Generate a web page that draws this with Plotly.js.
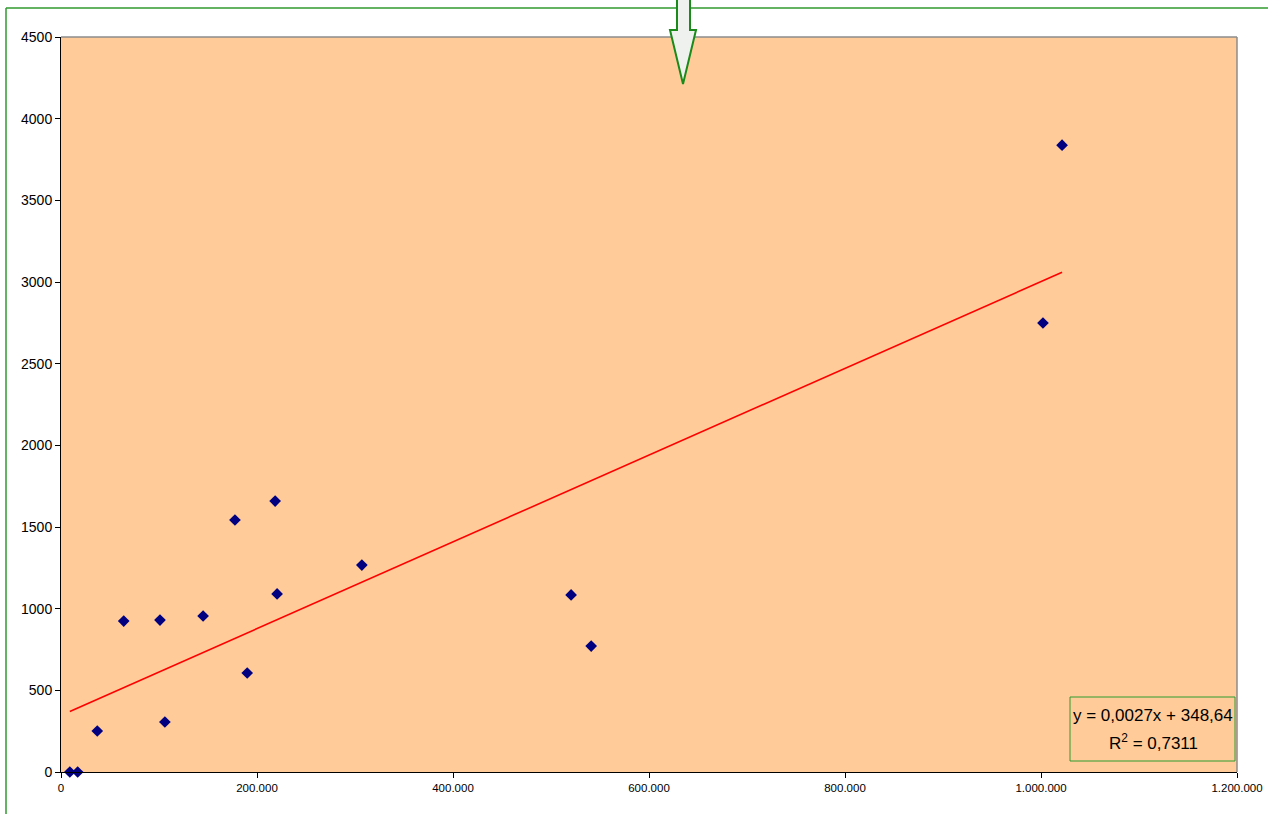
<!DOCTYPE html>
<html>
<head>
<meta charset="utf-8">
<script src="https://cdn.plot.ly/plotly-3.0.1.min.js"></script>
<style>html,body{margin:0;padding:0;background:#fff;}#chart{width:1268px;height:814px;}</style>
</head>
<body>
<div id="chart"></div>
<script>
// Data
const xValues = [9000, 17000, 37000, 64000, 101000, 106000, 145000, 177500, 190000, 218500, 220500, 307000, 520500, 541000, 1002000, 1021500];
const yValues = [0, 0, 251, 924, 930, 306, 955, 1543, 606, 1659, 1090, 1267, 1084, 771, 2749, 3838];
const yTicks = [0, 500, 1000, 1500, 2000, 2500, 3000, 3500, 4000, 4500];
const xTicks = [0, 200000, 400000, 600000, 800000, 1000000, 1200000];
const equationText = "y = 0,0027x + 348,64";
const r2Text = "R<sup>2</sup> = 0,7311";

// Least squares trendline from the data
const n = xValues.length;
const mx = xValues.reduce((a, b) => a + b, 0) / n;
const my = yValues.reduce((a, b) => a + b, 0) / n;
let sxy = 0, sxx = 0;
for (let i = 0; i < n; i++) { sxy += (xValues[i] - mx) * (yValues[i] - my); sxx += (xValues[i] - mx) ** 2; }
const slope = sxy / sxx, intercept = my - slope * mx;
const xMin = Math.min(...xValues), xMax = Math.max(...xValues);

// pixel -> paper helpers (plot area 61..1237 x, 37..772 y)
const L = 61, R = 1237, T = 37, B = 772;
const px = x => (x - L) / (R - L);
const py = y => (B - y) / (B - T);

const green = '#2f9a2f';
const arrowPts = [[677, -5], [690, -5], [690, 30], [696, 30], [683, 84], [670, 30], [677, 30]];
const arrowPath = 'M' + arrowPts.map(p => px(p[0]) + ',' + py(p[1])).join(' L') + ' Z';

const traces = [
  {
    x: xValues, y: yValues, type: 'scatter', mode: 'markers',
    marker: {symbol: 'diamond', size: 9, color: '#000080'},
    hoverinfo: 'x+y', showlegend: false, cliponaxis: false
  },
  {
    x: [xMin, xMax], y: [slope * xMin + intercept, slope * xMax + intercept],
    type: 'scatter', mode: 'lines', line: {color: '#ff0000', width: 1.6},
    showlegend: false, hoverinfo: 'skip'
  }
];

const layout = {
  width: 1268, height: 814,
  margin: {l: L, r: 1268 - R, t: T, b: 814 - B, pad: 0},
  paper_bgcolor: '#ffffff', plot_bgcolor: '#ffcc99',
  separators: ',.',
  font: {family: 'Liberation Sans, Arial, sans-serif', color: '#000'},
  xaxis: {
    range: [0, 1200000], tickvals: xTicks, tickformat: ',d',
    showgrid: false, zeroline: false, showline: true, linecolor: '#000', linewidth: 1,
    ticks: 'outside', ticklen: 5, tickcolor: '#000', tickfont: {size: 11.5}
  },
  yaxis: {
    range: [0, 4500], tickvals: yTicks, tickformat: 'd',
    showgrid: false, zeroline: false, showline: true, linecolor: '#000', linewidth: 1,
    ticks: 'outside', ticklen: 5, tickcolor: '#000', tickfont: {size: 14}
  },
  shapes: [
    {type: 'line', xref: 'paper', yref: 'paper', x0: 0, x1: 1, y0: 1, y1: 1, line: {color: '#8c8c8c', width: 1.5}},
    {type: 'line', xref: 'paper', yref: 'paper', x0: 1, x1: 1, y0: 0, y1: 1, line: {color: '#8c8c8c', width: 1.5}},
    {type: 'line', xref: 'paper', yref: 'paper', x0: px(6), x1: px(1270), y0: py(8), y1: py(8), line: {color: green, width: 1.5}},
    {type: 'line', xref: 'paper', yref: 'paper', x0: px(6), x1: px(6), y0: py(8), y1: py(816), line: {color: green, width: 1.5}},
    {type: 'path', xref: 'paper', yref: 'paper', path: arrowPath, fillcolor: '#eef1ee', line: {color: '#1a8a1a', width: 2}},
    {type: 'rect', xref: 'paper', yref: 'paper', x0: px(1070), x1: px(1235), y0: py(761), y1: py(697), line: {color: green, width: 1}, fillcolor: 'rgba(0,0,0,0)'}
  ],
  annotations: [
    {xref: 'paper', yref: 'paper', x: px(1153), y: py(715), text: equationText, showarrow: false,
     font: {size: 17, color: '#000'}, xanchor: 'center', yanchor: 'middle'},
    {xref: 'paper', yref: 'paper', x: px(1153), y: py(742), text: r2Text, showarrow: false,
     font: {size: 17, color: '#000'}, xanchor: 'center', yanchor: 'middle'}
  ]
};

Plotly.newPlot('chart', traces, layout, {displayModeBar: false, staticPlot: true});
</script>
</body>
</html>
